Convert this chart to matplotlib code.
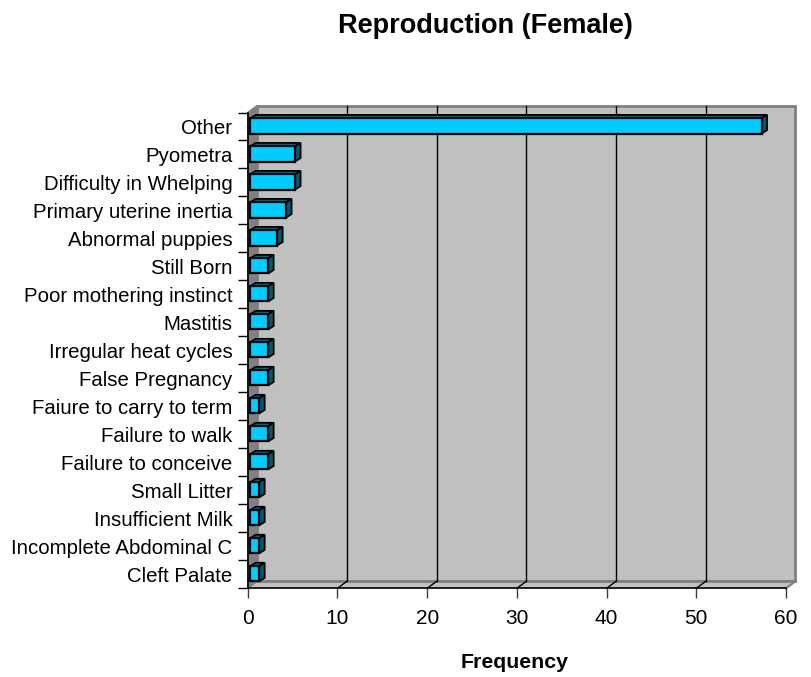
import matplotlib
matplotlib.use("Agg")
import matplotlib.pyplot as plt
from matplotlib.patches import Polygon, Rectangle

plt.rcParams['font.family'] = ['Liberation Sans', 'DejaVu Sans']

# Data, top of chart first
categories = ['Other', 'Pyometra', 'Difficulty in Whelping', 'Primary uterine inertia',
              'Abnormal puppies', 'Still Born', 'Poor mothering instinct', 'Mastitis',
              'Irregular heat cycles', 'False Pregnancy', 'Faiure to carry to term',
              'Failure to walk', 'Failure to conceive', 'Small Litter', 'Insufficient Milk',
              'Incomplete Abdominal C', 'Cleft Palate']
counts = [57, 5, 5, 4, 3, 2, 2, 2, 2, 2, 1, 2, 2, 1, 1, 1, 1]
xticks = [0, 10, 20, 30, 40, 50, 60]

W, H = 812, 677
fig = plt.figure(figsize=(W / 100, H / 100), dpi=100)

# front frame of the 3d box, in pixels
left_px, right_px, top_px, bot_px = 247.7, 786.0, 112.5, 588.3
ax = fig.add_axes([left_px / W, (H - bot_px) / H,
                   (right_px - left_px) / W, (bot_px - top_px) / H])
xmin, xmax = 0, 60
n = len(categories)
ymin, ymax = -0.5, n - 0.5
ax.set_xlim(xmin, xmax)
ax.set_ylim(ymin, ymax)
ax.patch.set_visible(False)

# data units per pixel
ux = (xmax - xmin) / (right_px - left_px)
uy = (ymax - ymin) / (bot_px - top_px)

# depth of the box (back wall offset)
bx, by = 9.5 * ux, 7 * uy

# back wall
ax.add_patch(Rectangle((xmin + bx, ymin + by), xmax - xmin, ymax - ymin,
                       facecolor='#C0C0C0', edgecolor='#808080', lw=2,
                       clip_on=False, zorder=0))
# gridlines on back wall and floor
for t in xticks[1:-1]:
    ax.plot([t + bx, t + bx], [ymin + by, ymax + by], color='black', lw=1,
            clip_on=False, zorder=1)
    ax.plot([t, t + bx], [ymin, ymin + by], color='black', lw=1,
            clip_on=False, zorder=1)

# floor
ax.add_patch(Polygon([(xmin, ymin), (xmax, ymin), (xmax + bx, ymin + by), (xmin + bx, ymin + by)],
                     closed=True, facecolor='#C0C0C0', edgecolor='none',
                     clip_on=False, zorder=0.5))
ax.plot([xmin + bx, xmax + bx], [ymin + by, ymin + by], color='#808080', lw=2,
        clip_on=False, zorder=0.6)
ax.plot([xmax, xmax + bx], [ymin, ymin + by], color='#808080', lw=1.5,
        clip_on=False, zorder=0.6)

# left side wall
ax.add_patch(Polygon([(xmin, ymin), (xmin, ymax), (xmin + bx, ymax + by), (xmin + bx, ymin + by)],
                     closed=True, facecolor='#808080', edgecolor='#808080', lw=1,
                     clip_on=False, zorder=0.7))

# bars (3d look)
fx, fy = 2.5 * ux, 0.5 * uy       # front face offset from front plane
dx, dy = 5.5 * ux, 3.5 * uy       # bar depth
hh = 0.27
ypos = [n - 1 - i for i in range(n)]
for y, v in zip(ypos, counts):
    x0, x1 = xmin + fx, v + fx
    y0, y1 = y - hh + fy, y + hh + fy
    ax.add_patch(Polygon([(x0, y1), (x1, y1), (x1 + dx, y1 + dy), (x0 + dx, y1 + dy)],
                         closed=True, facecolor='#006F8C', edgecolor='black', lw=1.3,
                         clip_on=False, zorder=3))
    ax.add_patch(Polygon([(x1, y0), (x1 + dx, y0 + dy), (x1 + dx, y1 + dy), (x1, y1)],
                         closed=True, facecolor='#005A70', edgecolor='black', lw=1.3,
                         clip_on=False, zorder=3))
    ax.add_patch(Rectangle((x0, y0), x1 - x0, y1 - y0, facecolor='#00CCFF',
                           edgecolor='black', lw=1.6, clip_on=False, zorder=4))

# axes lines
for s in ['top', 'right']:
    ax.spines[s].set_visible(False)
for s in ['left', 'bottom']:
    ax.spines[s].set_color('black')
    ax.spines[s].set_linewidth(1.2)
    ax.spines[s].set_zorder(2)

ax.set_xticks(xticks)
ax.set_xticklabels([str(t) for t in xticks], fontsize=15)
ax.tick_params(axis='x', direction='out', length=7.2, width=1, color='#404040', pad=8)

ax.set_yticks(ypos)
ax.set_yticklabels(categories, fontsize=14.7)
ax.set_yticks([k - 0.5 for k in range(n + 1)], minor=True)
ax.tick_params(axis='y', which='major', length=0, pad=11)
ax.tick_params(axis='y', which='minor', direction='out', length=7.2, width=1, color='black')

fig.text(485.5 / W, (H - 33.3) / H, 'Reproduction (Female)', ha='center', va='baseline',
         fontsize=19.5, fontweight='bold')
fig.text(515 / W, (H - 668.3) / H, 'Frequency', ha='center', va='baseline',
         fontsize=15.3, fontweight='bold')

fig.savefig('out.png', dpi=100)
